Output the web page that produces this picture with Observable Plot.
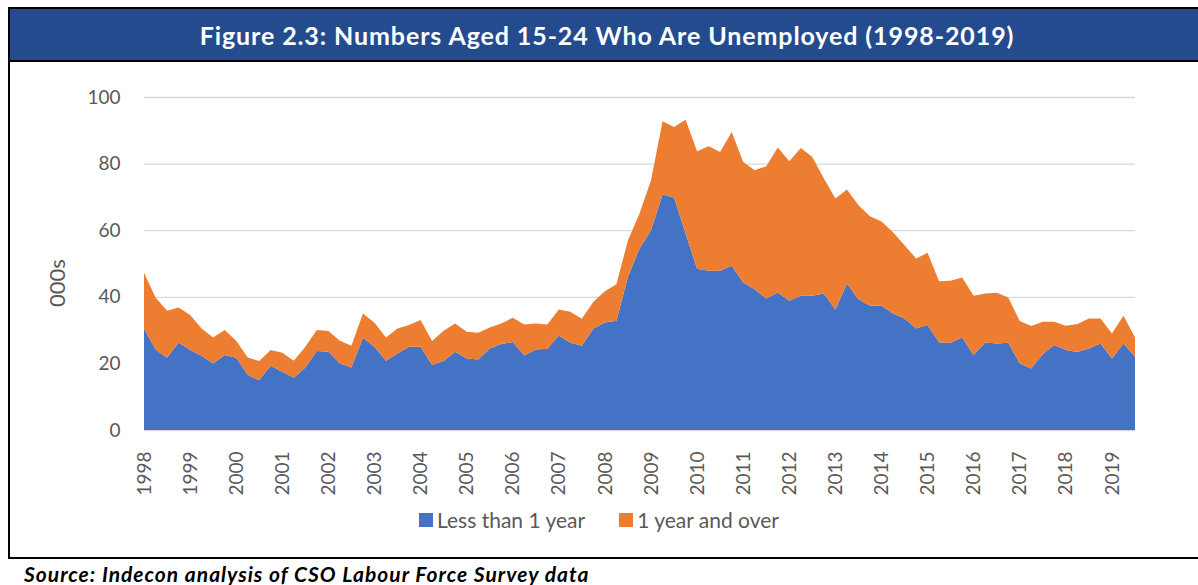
<!DOCTYPE html>
<html>
<head>
<meta charset="utf-8">
<script src="https://cdn.jsdelivr.net/npm/d3@7"></script>
<script src="https://cdn.jsdelivr.net/npm/@observablehq/plot@0.6"></script>
<style>
  html, body { margin: 0; padding: 0; background: #fff; }
  #page { position: relative; width: 1198px; height: 585px; overflow: hidden; font-family: Lato, "Open Sans", sans-serif; }
  #header { position: absolute; left: 8px; top: 7px; width: 1190px; height: 51px; background: #254B8F;
            border-top: 2px solid #000; border-bottom: 2px solid #000; color: #fff; font-weight: bold;
            font-size: 25px; letter-spacing: 0.9px; display: flex; align-items: center; justify-content: center; padding-left: 4px; box-sizing: content-box; }
  #leftline { position: absolute; left: 8px; top: 7px; width: 2px; height: 552px; background: #000; }
  #bottomline { position: absolute; left: 8px; top: 557px; width: 1190px; height: 2px; background: #000; }
  #chart { position: absolute; left: 0; top: 62px; }
  #ytitle { position: absolute; left: 57px; top: 283px; transform: translate(-50%, -50%) rotate(-90deg); white-space: nowrap;
            font-size: 22px; line-height: 1; color: #595959; }
  #legend { position: absolute; left: 0; top: 507px; width: 1198px; display: flex; justify-content: center; align-items: center;
            font-size: 21px; color: #595959; }
  .key { display: inline-flex; align-items: center; margin: 0 17px; }
  .sw { width: 14px; height: 14px; margin-right: 4px; display: inline-block; }
  #source { position: absolute; left: 24px; top: 561px; font-size: 21px; letter-spacing: 1px; font-weight: bold; font-style: italic; color: #000; }
</style>
</head>
<body>
<div id="page">
  <div id="chart"></div>
  <div id="ytitle"></div>
  <div id="header"></div>
  <div id="leftline"></div>
  <div id="bottomline"></div>
  <div id="legend"></div>
  <div id="source"></div>
</div>
<script>
const titleText = "Figure 2.3: Numbers Aged 15-24 Who Are Unemployed (1998-2019)";
const sourceText = "Source: Indecon analysis of CSO Labour Force Survey data";
const yAxisTitle = "000s";
const seriesNames = ["Less than 1 year", "1 year and over"];
const seriesColors = ["#4472C4", "#ED7D31"];
const years = [1998,1999,2000,2001,2002,2003,2004,2005,2006,2007,2008,2009,2010,2011,2012,2013,2014,2015,2016,2017,2018,2019];
const yTicks = [0, 20, 40, 60, 80, 100];

// Quarterly values (000s), 1998 Q1 to 2019 Q3
const lessThan1Year = [
  30.5,24.2,21.7,26.3, 24.0,22.3,20.0,22.5, 21.7,16.5,15.0,19.3, 17.5,15.7,18.8,23.7,
  23.5,20.0,18.8,27.7, 25.0,20.8,23.0,25.0, 25.0,19.5,20.7,23.5, 21.5,21.2,24.5,25.8,
  26.4,22.4,24.2,24.4, 28.4,26.2,25.3,30.5, 32.3,32.8,46.0,54.5, 60.0,70.7,69.8,59.0,
  48.4,47.8,47.8,49.3, 44.3,42.3,39.5,41.3, 38.8,40.3,40.3,41.0, 36.2,44.0,39.3,37.3,
  37.3,35.0,33.5,30.5, 31.5,26.3,26.2,27.8, 22.5,26.3,26.0,26.2, 20.0,18.5,22.8,25.5,
  24.0,23.4,24.5,26.0, 21.5,26.0,22.0
];
const oneYearAndOver = [
  16.7,15.6,14.1,10.5, 10.5,8.2,7.8,7.5, 5.1,5.3,5.7,4.7, 5.7,5.1,6.2,6.3,
  6.2,6.8,6.5,7.3, 7.2,7.0,7.5,6.5, 8.0,7.2,9.1,8.5, 8.0,8.0,6.3,6.2,
  7.3,9.3,7.8,7.3, 7.8,9.3,8.1,8.0, 9.4,11.0,11.0,10.5, 15.0,22.0,21.2,34.2,
  35.3,37.4,35.7,40.2, 36.2,35.7,39.7,43.5, 41.9,44.4,41.7,34.5, 33.3,28.2,28.2,26.9,
  25.3,24.4,22.0,21.0, 21.7,18.4,18.6,18.0, 17.8,14.7,15.2,13.6, 12.7,12.7,9.7,7.0,
  7.3,8.4,9.0,7.5, 7.5,8.3,5.8
];

const rows = [];
[lessThan1Year, oneYearAndOver].forEach((vals, s) => {
  vals.forEach((v, i) => rows.push({q: i, series: seriesNames[s], value: v}));
});
const yearTickIdx = years.map((y, k) => k * 4);

document.getElementById("header").textContent = titleText;
document.getElementById("source").textContent = sourceText;
document.getElementById("ytitle").textContent = yAxisTitle;

const chart = Plot.plot({
  width: 1198,
  height: 470,
  marginLeft: 144,
  marginRight: 63,
  marginTop: 35,
  marginBottom: 102,
  style: {fontFamily: "Lato, 'Open Sans', sans-serif", background: "transparent"},
  x: {domain: [0, lessThan1Year.length - 1]},
  y: {domain: [0, 100]},
  color: {domain: seriesNames, range: seriesColors},
  marks: [
    Plot.gridY(yTicks, {stroke: "#D9D9D9", strokeOpacity: 1, strokeWidth: 1.3}),
    Plot.areaY(rows, {x: "q", y: "value", z: "series", fill: "series", order: seriesNames}),
    Plot.axisY(yTicks, {tickSize: 0, tickPadding: 24, fontSize: 19, color: "#595959", label: null}),
    Plot.axisX(yearTickIdx, {tickFormat: i => String(years[i / 4]), tickRotate: -90, tickSize: 0, tickPadding: 21,
                             fontSize: 19, color: "#595959", label: null})
  ]
});
document.getElementById("chart").appendChild(chart);

const legend = document.getElementById("legend");
seriesNames.forEach((n, i) => {
  const k = document.createElement("span");
  k.className = "key";
  const sw = document.createElement("span");
  sw.className = "sw";
  sw.style.background = seriesColors[i];
  k.appendChild(sw);
  k.appendChild(document.createTextNode(n));
  legend.appendChild(k);
});
</script>
</body>
</html>
